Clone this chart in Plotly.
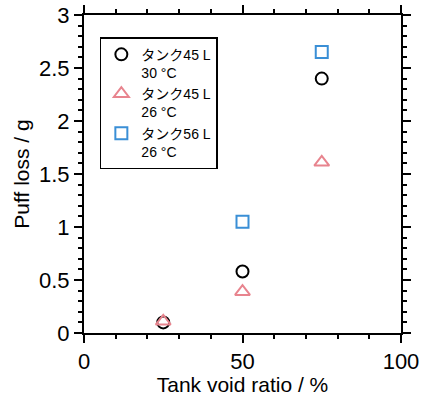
import plotly.graph_objects as go

void_ratio = [25, 50, 75]
tank45_30C = [0.10, 0.58, 2.40]
tank45_26C = [0.11, 0.39, 1.61]
void_ratio_56 = [50, 75]
tank56_26C = [1.05, 2.65]

names = ["タンク45 L<br>30 °C", "タンク45 L<br>26 °C", "タンク56 L<br>26 °C"]
x_ticks = [0, 50, 100]
y_ticks = [0, 0.5, 1, 1.5, 2, 2.5, 3]

FONT = "Liberation Sans, Arial, Noto Sans CJK JP, sans-serif"

fig = go.Figure()
fig.add_trace(go.Scatter(x=void_ratio, y=tank45_30C, mode="markers", name=names[0],
                         marker=dict(symbol="circle-open", size=12, color="black", line=dict(width=2))))
fig.add_trace(go.Scatter(x=void_ratio, y=tank45_26C, mode="markers", name=names[1],
                         marker=dict(symbol="triangle-up-open", size=13, color="#e8848e", line=dict(width=2))))
fig.add_trace(go.Scatter(x=void_ratio_56, y=tank56_26C, mode="markers", name=names[2],
                         marker=dict(symbol="square-open", size=12, color="#3a8fd6", line=dict(width=2))))

axis_common = dict(showline=True, linecolor="black", linewidth=2, mirror="ticks",
                   ticks="outside", ticklen=8, tickwidth=2, tickcolor="black",
                   showgrid=False, zeroline=False, automargin=False,
                   tickfont=dict(family=FONT, size=22, color="black"))

fig.update_xaxes(range=[0, 100], tickvals=x_ticks,
                 title=dict(text="Tank void ratio / %", font=dict(family=FONT, size=21, color="black"), standoff=2),
                 minor=dict(dtick=10, ticklen=4, tickwidth=1.5, tickcolor="black", ticks="outside"),
                 **axis_common)
fig.update_yaxes(range=[0, 3], tickvals=y_ticks,
                 title=dict(text="Puff loss / g", font=dict(family=FONT, size=21, color="black"), standoff=4),
                 minor=dict(dtick=0.1, ticklen=4, tickwidth=1.5, tickcolor="black", ticks="outside"),
                 **axis_common)

fig.update_layout(
    width=428, height=396,
    margin=dict(l=84, r=27, t=15, b=63),
    paper_bgcolor="white", plot_bgcolor="white",
    font=dict(family=FONT, color="black"),
    legend=dict(x=0.05, y=0.93, xanchor="left", yanchor="top",
                bordercolor="black", borderwidth=1.5, bgcolor="white",
                font=dict(family=FONT, size=14, color="black"),
                valign="top", tracegroupgap=0, itemwidth=30),
)

fig.write_html("out.html")
